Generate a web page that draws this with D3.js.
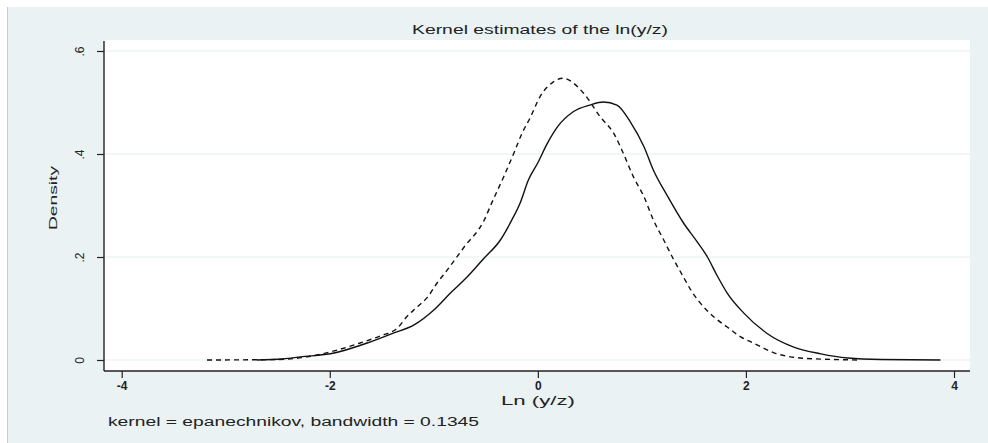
<!DOCTYPE html>
<html>
<head>
<meta charset="utf-8">
<script src="https://cdn.jsdelivr.net/npm/d3@7"></script>
<style>
  body { margin: 0; background: #fff; }
  svg { display: block; font-family: "Liberation Sans", Arial, sans-serif; }
</style>
</head>
<body>
<svg id="chart" width="988" height="443"></svg>
<script>
// kernel density estimates: x = ln(y/z), d = density
const solidX = [-2.7, -2.45, -2.28, -1.97, -1.64, -1.39, -1.19, -1.0, -0.84, -0.68, -0.52, -0.36, -0.25, -0.17, -0.09, 0.0, 0.09, 0.19, 0.34, 0.5, 0.63, 0.76, 0.89, 1.02, 1.11, 1.25, 1.4, 1.53, 1.63, 1.72, 1.82, 1.98, 2.2, 2.46, 2.72, 2.98, 3.3, 3.87];
const solidD = [0, 0.002, 0.006, 0.013, 0.033, 0.052, 0.068, 0.097, 0.13, 0.161, 0.197, 0.233, 0.272, 0.305, 0.35, 0.383, 0.42, 0.453, 0.482, 0.495, 0.501, 0.495, 0.462, 0.414, 0.369, 0.317, 0.266, 0.23, 0.2, 0.165, 0.13, 0.091, 0.052, 0.025, 0.012, 0.004, 0.001, 0];
const dashX = [-3.18, -2.5, -2.22, -1.9, -1.71, -1.51, -1.35, -1.26, -1.16, -1.06, -0.97, -0.87, -0.71, -0.52, -0.43, -0.33, -0.23, -0.15, -0.07, 0.02, 0.15, 0.24, 0.44, 0.6, 0.73, 0.82, 0.92, 1.02, 1.11, 1.21, 1.3, 1.4, 1.47, 1.56, 1.69, 1.82, 1.95, 2.07, 2.27, 2.52, 2.85, 3.1];
const dashD = [0, 0.001, 0.006, 0.021, 0.033, 0.047, 0.062, 0.084, 0.103, 0.122, 0.149, 0.175, 0.219, 0.27, 0.311, 0.355, 0.402, 0.441, 0.472, 0.511, 0.54, 0.547, 0.518, 0.472, 0.44, 0.402, 0.355, 0.317, 0.272, 0.233, 0.197, 0.161, 0.136, 0.111, 0.084, 0.064, 0.045, 0.033, 0.014, 0.004, 0.001, 0];

const xTicks = [-4, -2, 0, 2, 4];
const yTicks = [0, 0.2, 0.4, 0.6];

const title = 'Kernel estimates of the ln(y/z)';
const xTitle = 'Ln (y/z)';
const yTitle = 'Density';
const note = 'kernel = epanechnikov, bandwidth = 0.1345';

const svg = d3.select('#chart');

// graph region (stata s2color background)
svg.append('rect').attr('x', 7).attr('y', 7).attr('width', 981).attr('height', 436).attr('fill', '#eaf2f3');
svg.append('line').attr('x1', 7.5).attr('x2', 7.5).attr('y1', 7).attr('y2', 443).attr('stroke', '#c8cccd');

// plot region
const plot = { left: 104, right: 970, top: 40, bottom: 371 };
svg.append('rect')
  .attr('x', plot.left).attr('y', plot.top)
  .attr('width', plot.right - plot.left).attr('height', plot.bottom - plot.top)
  .attr('fill', '#fff');

const x = d3.scaleLinear().domain([-4, 4]).range([121.7, 954]);
const y = d3.scaleLinear().domain([0, 0.6]).range([360, 51]);

// gridlines
svg.append('g').selectAll('line').data(yTicks).enter().append('line')
  .attr('x1', plot.left + 1).attr('x2', plot.right)
  .attr('y1', d => y(d)).attr('y2', d => y(d))
  .attr('stroke', '#e4edf0').attr('stroke-width', 1.2);

// y axis
const fmtY = d => d === 0 ? '0' : d3.format('.1f')(d).replace('0.', '.');
const yAxis = svg.append('g')
  .attr('transform', `translate(${plot.left}, 0)`)
  .call(d3.axisLeft(y).tickValues(yTicks).tickFormat(fmtY).tickSize(7).tickSizeOuter(0));
yAxis.select('.domain').remove();
yAxis.selectAll('.tick line').attr('stroke', '#222').attr('stroke-width', 1.2);
yAxis.selectAll('.tick text')
  .attr('x', null).attr('dy', null)
  .attr('transform', 'translate(-24, 0) rotate(-90)')
  .attr('text-anchor', 'middle').attr('dominant-baseline', 'central')
  .attr('font-size', 12).attr('fill', '#222');
svg.append('line')
  .attr('x1', plot.left).attr('x2', plot.left).attr('y1', 41).attr('y2', plot.bottom)
  .attr('stroke', '#222').attr('stroke-width', 1.4);

// x axis
const xAxis = svg.append('g')
  .attr('transform', `translate(0, ${plot.bottom})`)
  .call(d3.axisBottom(x).tickValues(xTicks).tickFormat(d3.format('d')).tickSize(7).tickSizeOuter(0));
xAxis.select('.domain').remove();
xAxis.selectAll('.tick line').attr('stroke', '#222').attr('stroke-width', 1.2);
xAxis.selectAll('.tick text')
  .attr('y', 15).attr('dy', '0.35em')
  .attr('font-size', 12).attr('font-weight', 'bold').attr('fill', '#222')
  .text(d => d < 0 ? '-' + Math.abs(d) : String(d));
svg.append('line')
  .attr('x1', plot.left).attr('x2', plot.right).attr('y1', plot.bottom).attr('y2', plot.bottom)
  .attr('stroke', '#222').attr('stroke-width', 1.4);

// curves
const line = d3.line().x(p => x(p[0])).y(p => y(p[1])).curve(d3.curveMonotoneX);
svg.append('path')
  .datum(solidX.map((v, i) => [v, solidD[i]]))
  .attr('d', line).attr('fill', 'none').attr('stroke', '#111').attr('stroke-width', 1.4);
svg.append('path')
  .datum(dashX.map((v, i) => [v, dashD[i]]))
  .attr('d', line).attr('fill', 'none').attr('stroke', '#111').attr('stroke-width', 1.4)
  .attr('stroke-dasharray', '5,4');

// texts
svg.append('text').attr('x', 540).attr('y', 34).attr('text-anchor', 'middle')
  .attr('font-size', 12).attr('fill', '#222')
  .attr('textLength', 256).attr('lengthAdjust', 'spacingAndGlyphs').text(title);
svg.append('text').attr('x', 538).attr('y', 405).attr('text-anchor', 'middle')
  .attr('font-size', 12).attr('fill', '#222')
  .attr('textLength', 74).attr('lengthAdjust', 'spacingAndGlyphs').text(xTitle);
svg.append('text').attr('transform', 'translate(57, 198) rotate(-90)').attr('text-anchor', 'middle')
  .attr('font-size', 11).attr('fill', '#222')
  .attr('textLength', 64).attr('lengthAdjust', 'spacingAndGlyphs').text(yTitle);
svg.append('text').attr('x', 108).attr('y', 426)
  .attr('font-size', 12).attr('fill', '#222')
  .attr('textLength', 371).attr('lengthAdjust', 'spacingAndGlyphs').text(note);
</script>
</body>
</html>
